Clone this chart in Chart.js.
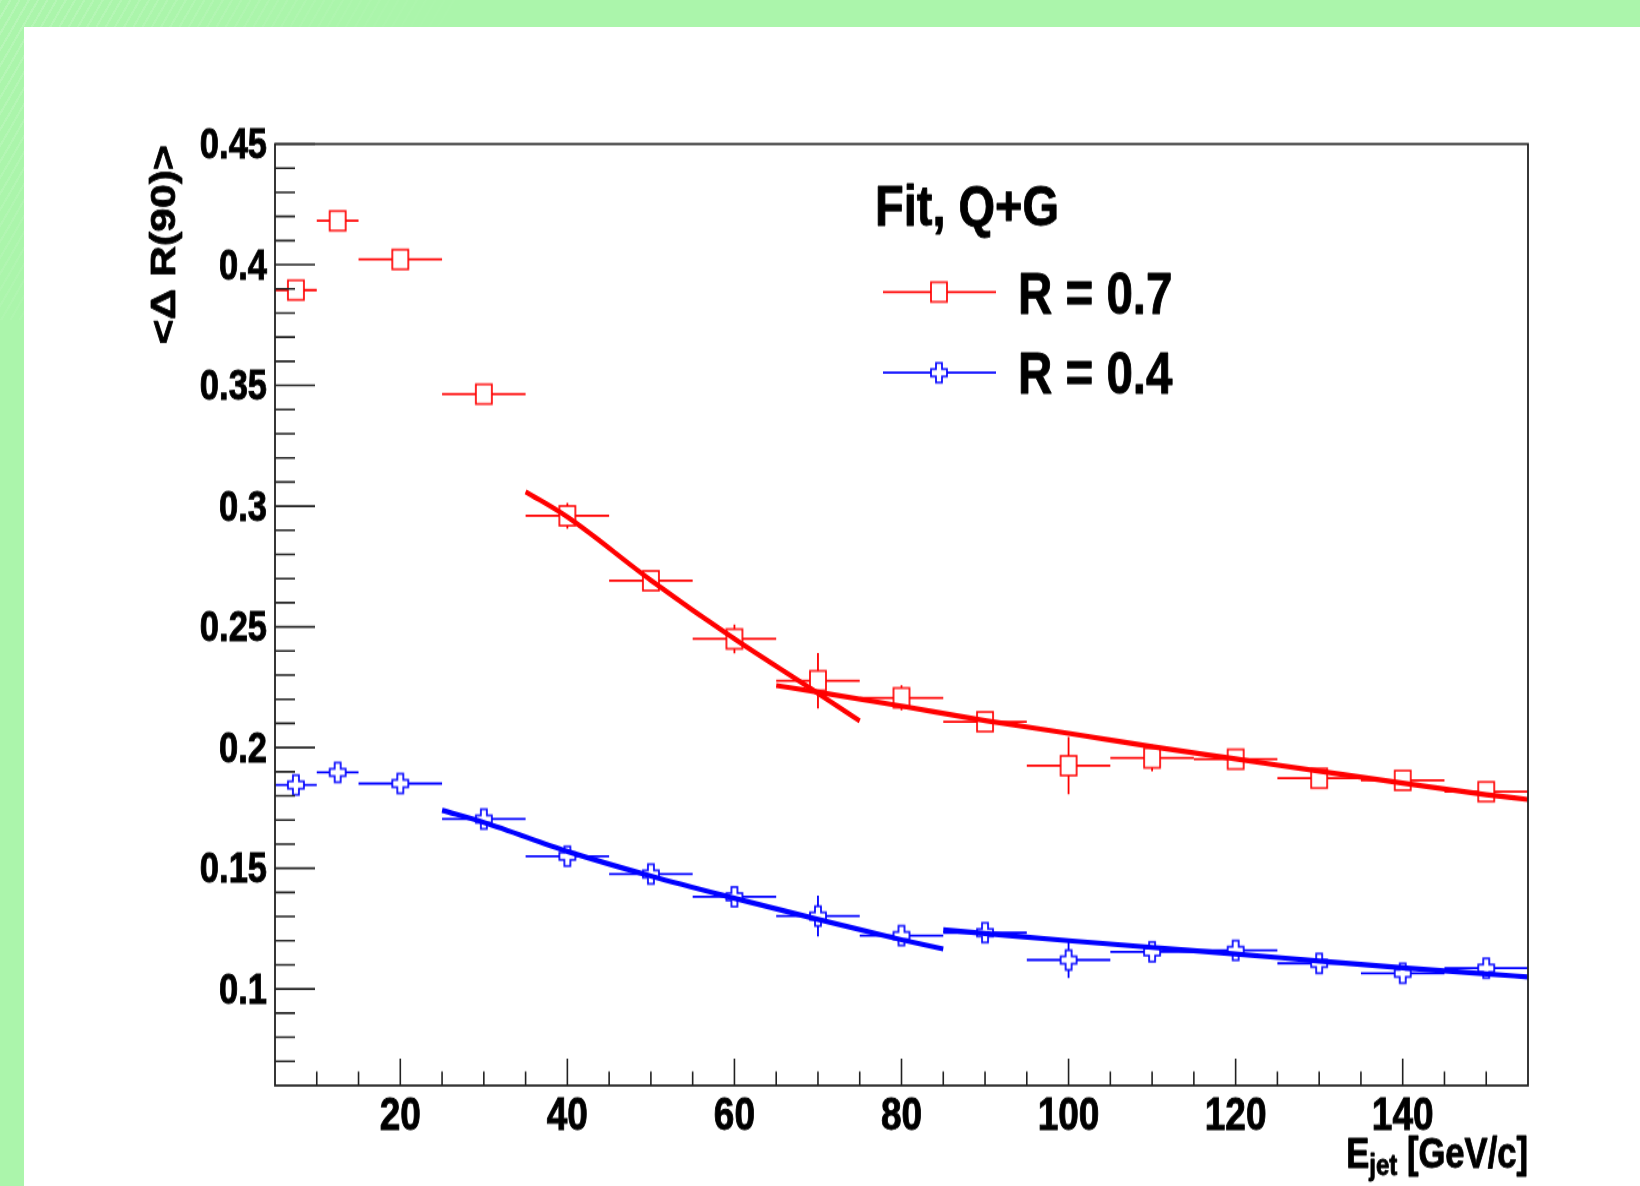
<!DOCTYPE html>
<html>
<head>
<meta charset="utf-8">
<title>&lt;&Delta; R(90)&gt; vs E_jet</title>
<script src="https://cdn.jsdelivr.net/npm/chart.js@4.4.1/dist/chart.umd.min.js"></script>
<style>
    html, body { margin: 0; padding: 0; }
    body { width: 1640px; height: 1186px; overflow: hidden; position: relative; background: #abf5ab; }
    #stripes {
        position: absolute; left: 0; top: 0; width: 460px; height: 320px;
        background: repeating-linear-gradient(120deg, rgba(255, 255, 255, 0.16) 0 2px, transparent 2px 8px);
        -webkit-mask-image: linear-gradient(135deg, #000 0%, transparent 65%);
        mask-image: linear-gradient(135deg, #000 0%, transparent 65%);
    }
    #panel { position: absolute; left: 24px; top: 27px; right: 0; bottom: 0; background: #fff; }
    /* the canvas is drawn at 1640x968 and stretched to the full page height */
    #wrap { position: absolute; left: 0; top: 0; width: 1640px; height: 968px; transform: scaleY(1.225207); transform-origin: 0 0; }
</style>
</head>
<body>
<div id="stripes"></div>
<div id="panel"></div>
<div id="wrap"><canvas id="dr-chart"></canvas></div>
<script>
const FONT = "'Liberation Sans', Arial, Helvetica, sans-serif";
const STRETCH = 1.225207;

// E_jet bins
const binLow = [5, 10, 15, 25, 35, 45, 55, 65, 75, 85, 95, 105, 115, 125, 135, 145];
const binHigh = [10, 15, 25, 35, 45, 55, 65, 75, 85, 95, 105, 115, 125, 135, 145, 155];
const eJet = [7.5, 12.5, 20, 30, 40, 50, 60, 70, 80, 90, 100, 110, 120, 130, 140, 150];

// <dR(90)> for the two cone sizes
const dr07 = [0.3895, 0.4182, 0.4022, 0.3464, 0.2960, 0.2691, 0.2450, 0.2277, 0.2206, 0.2107, 0.1925, 0.1957, 0.1952, 0.1873, 0.1864, 0.1817];
const dr07Err = [0.002, 0.002, 0.002, 0.003, 0.0053, 0.004, 0.006, 0.0115, 0.0052, 0.004, 0.0119, 0.0055, 0.004, 0.004, 0.004, 0.004];
const dr04 = [0.1845, 0.1897, 0.1851, 0.1704, 0.1550, 0.1476, 0.1382, 0.1302, 0.1221, 0.1233, 0.1120, 0.1154, 0.1160, 0.1106, 0.1065, 0.1086];
const dr04Err = [0.002, 0.002, 0.002, 0.003, 0.004, 0.004, 0.004, 0.0084, 0.004, 0.004, 0.0075, 0.004, 0.004, 0.004, 0.004, 0.004];

// fit curves, low and high E_jet ranges
const fit07LowX = [35, 40, 50, 60, 70, 75];
const fit07LowY = [0.3060, 0.2955, 0.2693, 0.2450, 0.2225, 0.2110];
const fit07HighX = [65, 70, 80, 90, 100, 110, 120, 130, 140, 150, 155];
const fit07HighY = [0.2257, 0.2230, 0.2172, 0.2112, 0.2059, 0.2004, 0.1953, 0.1902, 0.1853, 0.1805, 0.1785];
const fit04LowX = [25, 30, 40, 50, 60, 70, 80, 85];
const fit04LowY = [0.1740, 0.1690, 0.1570, 0.1468, 0.1376, 0.1288, 0.1204, 0.1166];
const fit04HighX = [85, 90, 100, 110, 120, 130, 140, 150, 155];
const fit04HighY = [0.1245, 0.1230, 0.1200, 0.1172, 0.1145, 0.1116, 0.1088, 0.1062, 0.1050];

const xTicks = [20, 40, 60, 80, 100, 120, 140];
const xTickLabels = ['20', '40', '60', '80', '100', '120', '140'];
const yTicks = [0.1, 0.15, 0.2, 0.25, 0.3, 0.35, 0.4, 0.45];
const yTickLabels = ['0.1', '0.15', '0.2', '0.25', '0.3', '0.35', '0.4', '0.45'];

const RED = '#ff0000';
const BLUE = '#0000ff';
const AXIS = '#222222';

function toPoints(xs, ys) {
    return xs.map((x, i) => ({ x, y: ys[i] }));
}

function makeMarker(kind, color) {
    const c = document.createElement('canvas');
    c.width = 20;
    c.height = 20;
    const g = c.getContext('2d');
    g.strokeStyle = color;
    g.lineWidth = 1.7;
    g.beginPath();
    if (kind === 'square') {
        g.rect(2, 2, 16, 16);
    } else {
        const h = 8, a = 3;
        const pts = [[-a, -h], [a, -h], [a, -a], [h, -a], [h, a], [a, a], [a, h], [-a, h], [-a, a], [-h, a], [-h, -a], [-a, -a]];
        pts.forEach(([px, py], i) => (i ? g.lineTo(10 + px, 10 + py) : g.moveTo(10 + px, 10 + py)));
        g.closePath();
    }
    g.stroke();
    return c;
}

const squareMarker = makeMarker('square', RED);
const crossMarker = makeMarker('cross', BLUE);

function fitLine(xs, ys, color) {
    return {
        data: toPoints(xs, ys),
        showLine: true,
        borderColor: color,
        borderWidth: 4.2,
        cubicInterpolationMode: 'monotone',
        pointRadius: 0,
    };
}

function markerSet(label, ys, marker) {
    return {
        label,
        data: toPoints(eJet, ys),
        showLine: false,
        pointStyle: marker,
        pointRadius: 8,
    };
}

// bold text with a thin outline so it reads as heavy as the tick labels
function heavyText(ctx, text, x, y) {
    ctx.fillText(text, x, y);
    ctx.strokeText(text, x, y);
}

// error bars with a gap at the marker, ticks drawn inside the frame, titles and legend
const rootStyle = {
    id: 'rootStyle',
    beforeDatasetsDraw(chart) {
        const { ctx, scales: { x, y } } = chart;
        const half = 8;
        const series = [[dr07, dr07Err, RED], [dr04, dr04Err, BLUE]];
        ctx.save();
        ctx.lineWidth = 1.8;
        series.forEach(([vals, errs, color]) => {
            ctx.strokeStyle = color;
            vals.forEach((v, i) => {
                const px = x.getPixelForValue(eJet[i]);
                const py = y.getPixelForValue(v);
                const lo = x.getPixelForValue(binLow[i]);
                const hi = x.getPixelForValue(binHigh[i]);
                const top = y.getPixelForValue(v + errs[i]);
                const bot = y.getPixelForValue(v - errs[i]);
                ctx.beginPath();
                ctx.moveTo(lo, py); ctx.lineTo(px - half, py);
                ctx.moveTo(px + half, py); ctx.lineTo(hi, py);
                if (py - top > half) {
                    ctx.moveTo(px, py - half); ctx.lineTo(px, top);
                    ctx.moveTo(px, py + half); ctx.lineTo(px, bot);
                }
                ctx.stroke();
            });
        });
        ctx.restore();
    },
    afterDatasetsDraw(chart) {
        const { ctx, chartArea: area, scales: { x, y } } = chart;
        ctx.save();
        ctx.strokeStyle = AXIS;
        ctx.lineWidth = 1.8;
        ctx.strokeRect(area.left, area.top, area.right - area.left, area.bottom - area.top);

        ctx.lineWidth = 1.6;
        ctx.beginPath();
        for (let k = 7; k <= 45; k++) {
            const py = y.getPixelForValue(k / 100);
            const len = k % 5 === 0 ? 40 : 20;
            ctx.moveTo(area.left, py);
            ctx.lineTo(area.left + len, py);
        }
        for (let v = 10; v <= 150; v += 5) {
            const px = x.getPixelForValue(v);
            const len = v % 20 === 0 ? 22 : 11.4;
            ctx.moveTo(px, area.bottom);
            ctx.lineTo(px, area.bottom - len);
        }
        ctx.stroke();
        ctx.restore();
    },
    afterDraw(chart) {
        const { ctx } = chart;
        ctx.save();
        ctx.fillStyle = '#000';
        ctx.strokeStyle = '#000';
        ctx.lineWidth = 0.8;
        ctx.lineJoin = 'round';
        ctx.textBaseline = 'alphabetic';

        // y title
        ctx.save();
        ctx.translate(175, 145 / STRETCH);
        ctx.rotate(-Math.PI / 2);
        ctx.textAlign = 'right';
        ctx.font = `bold 34.9px ${FONT}`;
        heavyText(ctx, '<\u0394 R(90)>', 0, 0);
        ctx.restore();

        // x title: E_jet [GeV/c]
        const right = chart.chartArea.right;
        const base = 1167.5 / STRETCH;
        ctx.font = `bold 34.6px ${FONT}`;
        ctx.textAlign = 'right';
        heavyText(ctx, ' [GeV/c]', right, base);
        const wMain = ctx.measureText(' [GeV/c]').width;
        ctx.font = `bold 24px ${FONT}`;
        const wSub = ctx.measureText('jet').width;
        heavyText(ctx, 'jet', right - wMain, 1175.5 / STRETCH);
        ctx.font = `bold 34.6px ${FONT}`;
        heavyText(ctx, 'E', right - wMain - wSub, base);

        // legend
        ctx.textAlign = 'left';
        ctx.font = `bold 47px ${FONT}`;
        heavyText(ctx, 'Fit, Q+G', 875, 226 / STRETCH);

        const entries = [['R = 0.7', RED, squareMarker, 292, 313.3], ['R = 0.4', BLUE, crossMarker, 372.7, 392.7]];
        entries.forEach(([text, color, marker, lineY, textY]) => {
            const ly = lineY / STRETCH;
            ctx.save();
            ctx.strokeStyle = color;
            ctx.lineWidth = 1.7;
            ctx.beginPath();
            ctx.moveTo(883, ly);
            ctx.lineTo(939 - 8, ly);
            ctx.moveTo(939 + 8, ly);
            ctx.lineTo(996, ly);
            ctx.stroke();
            ctx.restore();
            ctx.drawImage(marker, 939 - 10, ly - 10);
            ctx.font = `bold 47.5px ${FONT}`;
            heavyText(ctx, text, 1018, textY / STRETCH);
        });
        ctx.restore();
    },
};

const tickFont = (size) => ({ family: FONT, weight: 'bold', size });

const ctx = document.getElementById('dr-chart').getContext('2d');
const chart = new Chart(ctx, {
    type: 'scatter',
    data: {
        datasets: [
            fitLine(fit07LowX, fit07LowY, RED),
            fitLine(fit07HighX, fit07HighY, RED),
            fitLine(fit04LowX, fit04LowY, BLUE),
            fitLine(fit04HighX, fit04HighY, BLUE),
            markerSet('R = 0.7', dr07, squareMarker),
            markerSet('R = 0.4', dr04, crossMarker),
        ],
    },
    options: {
        responsive: true,
        maintainAspectRatio: false,
        animation: false,
        devicePixelRatio: 1,
        events: [],
        layout: { padding: { top: 144 / STRETCH, right: 112, left: 0, bottom: 0 } },
        plugins: {
            legend: { display: false },
            tooltip: { enabled: false },
        },
        scales: {
            x: {
                type: 'linear',
                min: 5,
                max: 155,
                grid: { display: false, drawTicks: false },
                border: { display: false },
                ticks: {
                    autoSkip: false,
                    maxRotation: 0,
                    padding: 3.5,
                    color: '#000',
                    textStrokeColor: '#000',
                    textStrokeWidth: 0.8,
                    font: tickFont(37),
                    callback: (v, i) => xTickLabels[i],
                },
                afterBuildTicks: (scale) => { scale.ticks = xTicks.map((v) => ({ value: v })); },
                afterFit: (scale) => { scale.height = 968 - 1085.5 / STRETCH; },
            },
            y: {
                type: 'linear',
                min: 0.06,
                max: 0.45,
                grid: { display: false, drawTicks: false },
                border: { display: false },
                ticks: {
                    autoSkip: false,
                    padding: 8,
                    labelOffset: 2,
                    color: '#000',
                    textStrokeColor: '#000',
                    textStrokeWidth: 0.8,
                    font: tickFont(34.5),
                    callback: (v, i) => yTickLabels[i],
                },
                afterBuildTicks: (scale) => { scale.ticks = yTicks.map((v) => ({ value: v })); },
                afterFit: (scale) => { scale.width = 275; },
            },
        },
    },
    plugins: [rootStyle],
});
</script>
</body>
</html>
